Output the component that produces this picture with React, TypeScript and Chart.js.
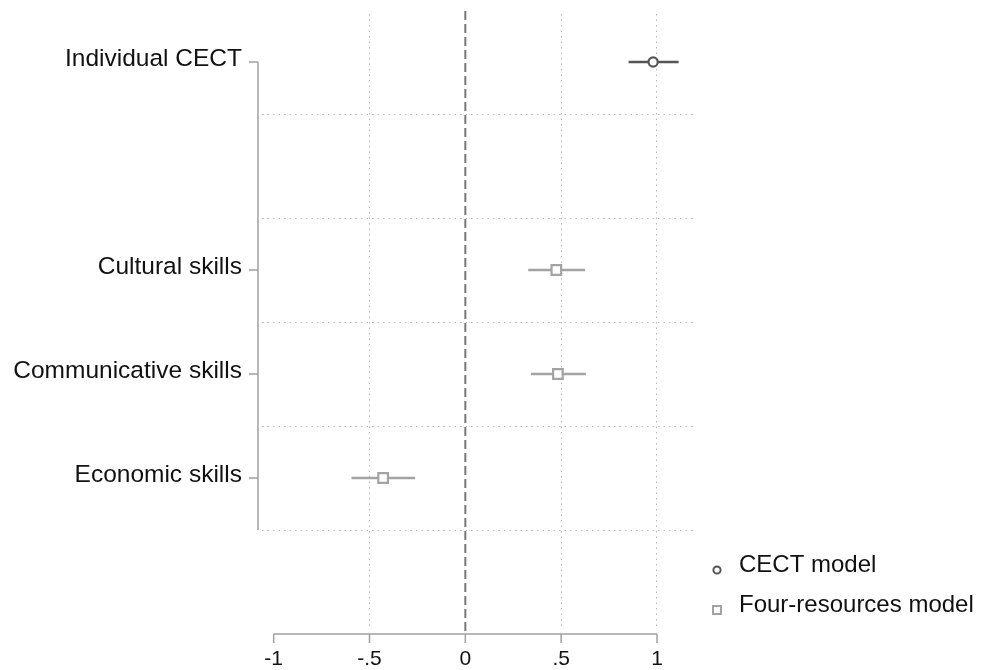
import React, { useEffect, useRef } from "react";
import { Chart, registerables } from "chart.js";

Chart.register(...registerables);

// ---------- data ----------
const categories = ["Individual CECT", "", "Cultural skills", "Communicative skills", "Economic skills"];
const xTickValues = [-1, -0.5, 0, 0.5, 1];
const xTickLabels = ["-1", "-.5", "0", ".5", "1"];
const xGridValues = [-0.5, 0.5, 1];
const yGridValues = [0.5, 1.5, 2.5, 3.5, 4.5];

const cectRows = [0];
const cectCoef = [0.98];
const cectLow = [0.852];
const cectHigh = [1.113];

const fourRows = [2, 3, 4];
const fourCoef = [0.475, 0.483, -0.429];
const fourLow = [0.328, 0.342, -0.594];
const fourHigh = [0.625, 0.629, -0.262];

const legendLabels = ["CECT model", "Four-resources model"];

const FONT = "'Liberation Sans', Arial, Helvetica, sans-serif";
const DARK = "#555555";
const LIGHT = "#a3a3a3";

export default function App() {
  const ref = useRef<HTMLCanvasElement | null>(null);

  useEffect(() => {
    if (!ref.current) return;

    const overlay = {
      id: "overlay",
      beforeDatasetsDraw(chart: any) {
        const ctx = chart.ctx;
        const xs = chart.scales.x;
        const ys = chart.scales.y;
        ctx.save();
        // zero reference line
        const x0 = xs.getPixelForValue(0);
        ctx.strokeStyle = "#777777";
        ctx.lineWidth = 2;
        ctx.setLineDash([9, 4]);
        ctx.beginPath();
        ctx.moveTo(x0, 11);
        ctx.lineTo(x0, ys.getPixelForValue(ys.max) + 6);
        ctx.stroke();
        ctx.setLineDash([]);
        // confidence intervals
        const drawCI = (rows: number[], lo: number[], hi: number[], color: string) => {
          ctx.strokeStyle = color;
          ctx.lineWidth = 2.5;
          rows.forEach((r, i) => {
            const y = ys.getPixelForValue(r);
            ctx.beginPath();
            ctx.moveTo(xs.getPixelForValue(lo[i]), y);
            ctx.lineTo(xs.getPixelForValue(hi[i]), y);
            ctx.stroke();
          });
        };
        drawCI(cectRows, cectLow, cectHigh, DARK);
        drawCI(fourRows, fourLow, fourHigh, LIGHT);
        ctx.restore();
      },
      afterDraw(chart: any) {
        const ctx = chart.ctx;
        const xs = chart.scales.x;
        const ys = chart.scales.y;
        ctx.save();
        ctx.strokeStyle = "#a0a0a0";
        ctx.lineWidth = 1.5;
        // y axis line
        const ax = chart.chartArea.left - 4;
        ctx.beginPath();
        ctx.moveTo(ax, ys.getPixelForValue(0));
        ctx.lineTo(ax, ys.getPixelForValue(yGridValues[yGridValues.length - 1]));
        ctx.stroke();
        // y ticks + labels
        ctx.fillStyle = "#111";
        ctx.font = `24.5px ${FONT}`;
        ctx.textAlign = "right";
        ctx.textBaseline = "alphabetic";
        categories.forEach((c, i) => {
          if (!c) return;
          const y = ys.getPixelForValue(i);
          ctx.beginPath();
          ctx.moveTo(ax - 9, y);
          ctx.lineTo(ax, y);
          ctx.stroke();
          ctx.fillText(c, ax - 16, y + 4);
        });
        // x axis line
        const ay = chart.chartArea.bottom + 6;
        ctx.beginPath();
        ctx.moveTo(xs.getPixelForValue(xTickValues[0]), ay);
        ctx.lineTo(xs.getPixelForValue(xTickValues[xTickValues.length - 1]), ay);
        ctx.stroke();
        ctx.font = `21px ${FONT}`;
        ctx.textAlign = "center";
        xTickValues.forEach((v, i) => {
          const x = xs.getPixelForValue(v);
          ctx.beginPath();
          ctx.moveTo(x, ay);
          ctx.lineTo(x, ay + 9);
          ctx.stroke();
          ctx.fillText(xTickLabels[i], x, ay + 31);
        });
        // legend
        const lx = 717;
        ctx.font = `24px ${FONT}`;
        ctx.textAlign = "left";
        ctx.lineWidth = 2;
        ctx.strokeStyle = DARK;
        ctx.fillStyle = "#fff";
        ctx.beginPath();
        ctx.arc(lx, 570, 3.6, 0, Math.PI * 2);
        ctx.fill();
        ctx.stroke();
        ctx.strokeStyle = LIGHT;
        ctx.lineWidth = 2;
        ctx.strokeRect(lx - 4, 606, 8, 8);
        ctx.fillStyle = "#111";
        ctx.fillText(legendLabels[0], 739, 572);
        ctx.fillText(legendLabels[1], 739, 612);
        ctx.restore();
      },
    };

    const chart = new Chart(ref.current, {
      type: "scatter",
      data: {
        datasets: [
          {
            label: legendLabels[0],
            data: cectRows.map((r, i) => ({ x: cectCoef[i], y: r })),
            pointStyle: "circle",
            pointRadius: 4.6,
            borderWidth: 2.2,
            borderColor: DARK,
            backgroundColor: "#ffffff",
          },
          {
            label: legendLabels[1],
            data: fourRows.map((r, i) => ({ x: fourCoef[i], y: r })),
            pointStyle: "rect",
            pointRadius: 6.8,
            borderWidth: 2.2,
            borderColor: LIGHT,
            backgroundColor: "#ffffff",
          },
        ],
      },
      options: {
        animation: false,
        responsive: false,
        maintainAspectRatio: false,
        events: [],
        layout: { padding: { left: 262, right: 289, top: 14, bottom: 42 } },
        plugins: { legend: { display: false }, tooltip: { enabled: false } },
        scales: {
          x: {
            type: "linear",
            min: -1.061,
            max: 1.188,
            afterBuildTicks: (s: any) => {
              s.ticks = xGridValues.map((v) => ({ value: v }));
            },
            ticks: { display: false },
            grid: { color: "#b8b8b8", lineWidth: 1, drawTicks: false },
            border: { display: false, dash: [1.5, 4] },
          },
          y: {
            type: "linear",
            reverse: true,
            min: -0.4615,
            max: 5.442,
            afterBuildTicks: (s: any) => {
              s.ticks = yGridValues.map((v) => ({ value: v }));
            },
            ticks: { display: false },
            grid: { color: "#b8b8b8", lineWidth: 1, drawTicks: false },
            border: { display: false, dash: [1.5, 4] },
          },
        },
      },
      plugins: [overlay],
    });

    return () => chart.destroy();
  }, []);

  return (
    <div style={{ position: "fixed", left: 0, top: 0, width: 982, height: 670, background: "#fff" }}>
      <canvas ref={ref} width={982} height={670} style={{ width: 982, height: 670, display: "block" }} />
    </div>
  );
}
